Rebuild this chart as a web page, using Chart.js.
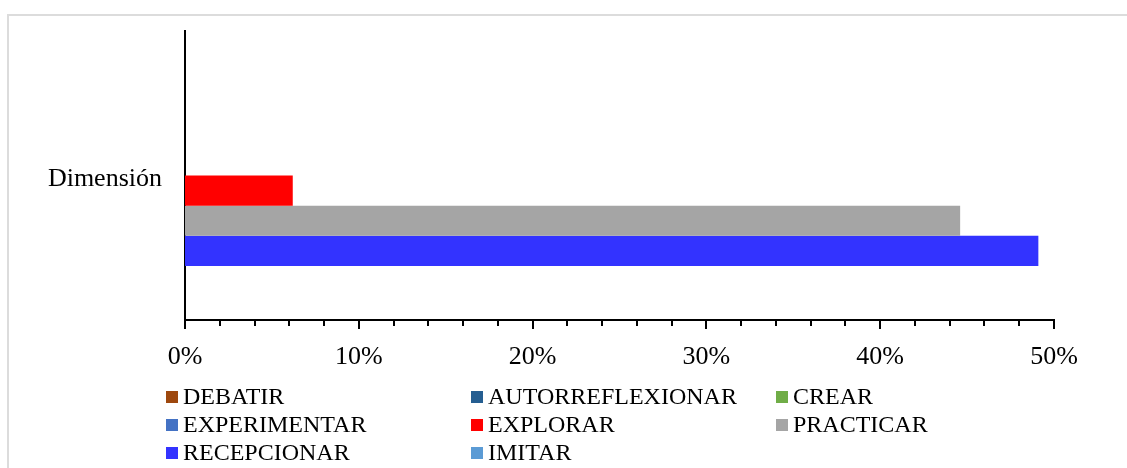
<!DOCTYPE html>
<html>
<head>
<meta charset="utf-8">
<script src="https://cdn.jsdelivr.net/npm/chart.js@4.4.0/dist/chart.umd.min.js"></script>
<style>
  body { margin: 0; background: #fff; }
  #wrap { position: relative; width: 1127px; height: 468px; }
  #frame { position: absolute; left: 7px; top: 14px; right: 0; bottom: 0;
           border-top: 2px solid #dcdcdc; border-left: 2px solid #dcdcdc; }
  canvas { position: absolute; left: 0; top: 0; }
</style>
</head>
<body>
<div id="wrap">
  <div id="frame"></div>
  <canvas id="myChart" width="1127" height="468"></canvas>
</div>
<script>
// data (percent)
var categories = ["Dimensión"];
var seriesNames = ["DEBATIR", "AUTORREFLEXIONAR", "CREAR", "EXPERIMENTAR",
                   "EXPLORAR", "PRACTICAR", "RECEPCIONAR", "IMITAR"];
var seriesValues = [0, 0, 0, 0, 6.2, 44.6, 49.1, 0];
var seriesColors = ["#9e480e", "#255e91", "#70ad47", "#4472c4",
                    "#ff0000", "#a5a5a5", "#3333ff", "#5b9bd5"];
var tickLabels = ["0%", "10%", "20%", "30%", "40%", "50%"];

var FONT = "'Liberation Serif', 'Times New Roman', serif";

var datasets = seriesNames.map(function (name, i) {
  return {
    label: name,
    data: [seriesValues[i]],
    backgroundColor: seriesColors[i],
    borderWidth: 0
  };
});

// small tick marks under the value axis (major every 10, minor every 2)
var tickMarks = {
  id: "tickMarks",
  afterDraw: function (chart) {
    var ctx = chart.ctx;
    var xs = chart.scales.x;
    var y0 = chart.chartArea.bottom;
    ctx.save();
    ctx.strokeStyle = "#000";
    ctx.lineWidth = 2;
    for (var v = 0; v <= 50; v += 2) {
      var x = Math.round(xs.getPixelForValue(v));
      var len = (v % 10 === 0) ? 9 : 6;
      ctx.beginPath();
      ctx.moveTo(x, y0);
      ctx.lineTo(x, y0 + len);
      ctx.stroke();
    }
    ctx.restore();
  }
};

// legend in three fixed columns
var gridLegend = {
  id: "gridLegend",
  afterDraw: function (chart) {
    var ctx = chart.ctx;
    var colX = [166, 471, 776];
    var rowY = [397, 425, 453];
    ctx.save();
    ctx.font = "24px " + FONT;
    ctx.textBaseline = "middle";
    chart.data.datasets.forEach(function (ds, i) {
      var x = colX[i % 3];
      var y = rowY[Math.floor(i / 3)];
      ctx.fillStyle = ds.backgroundColor;
      ctx.fillRect(x, y - 6, 12, 12);
      ctx.fillStyle = "#000";
      ctx.fillText(ds.label, x + 17, y + 1);
    });
    ctx.restore();
  }
};

new Chart("myChart", {
  type: "bar",
  data: {
    labels: categories,
    datasets: datasets
  },
  options: {
    indexAxis: "y",
    responsive: false,
    animation: false,
    layout: { padding: { top: 31, right: 73, left: 0, bottom: 0 } },
    datasets: {
      bar: { barPercentage: 1, categoryPercentage: 0.834 }
    },
    plugins: {
      legend: { display: false },
      tooltip: { enabled: false }
    },
    scales: {
      x: {
        min: 0,
        max: 50,
        grid: { display: false, drawTicks: false },
        border: { display: true, color: "#000", width: 2 },
        ticks: {
          stepSize: 10,
          padding: 22,
          color: "#000",
          font: { family: FONT, size: 26 },
          callback: function (v, i) { return tickLabels[i]; }
        },
        afterFit: function (s) { s.height = 148; s.paddingLeft = 0; s.paddingRight = 0; }
      },
      y: {
        grid: { display: false, drawTicks: false },
        border: { display: true, color: "#000", width: 2 },
        ticks: {
          padding: 23,
          labelOffset: 4,
          color: "#000",
          font: { family: FONT, size: 26 }
        },
        afterFit: function (s) { s.width = 185; s.paddingTop = 0; s.paddingBottom = 0; }
      }
    }
  },
  plugins: [tickMarks, gridLegend]
});
</script>
</body>
</html>
